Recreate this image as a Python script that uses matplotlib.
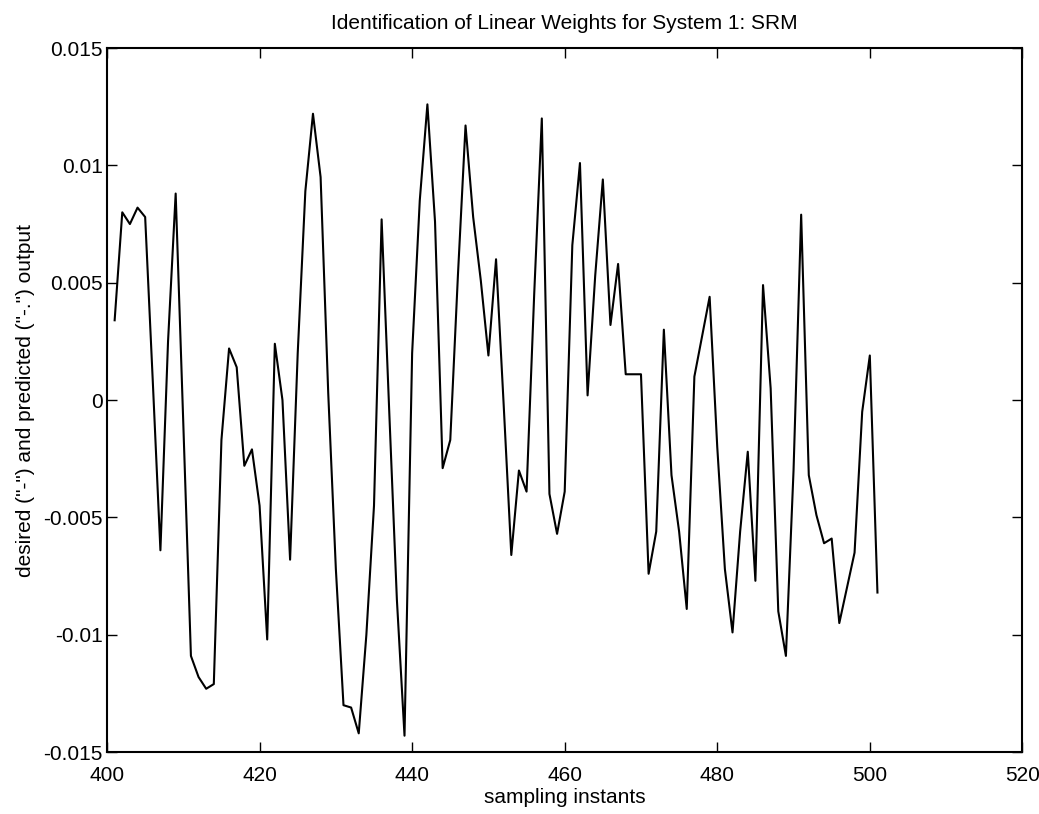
import matplotlib
matplotlib.use('Agg')
import matplotlib.pyplot as plt
import numpy as np

# sampling instants 401..501
instants = np.arange(401, 502)
output = [
    0.0034, 0.0080, 0.0075, 0.0082, 0.0078, 0.0008, -0.0064, 0.0025, 0.0088, -0.0010,
    -0.0109, -0.0118, -0.0123, -0.0121, -0.0017, 0.0022, 0.0014, -0.0028, -0.0021, -0.0045,
    -0.0102, 0.0024, 0.0000, -0.0068, 0.0020, 0.0089, 0.0122, 0.0095, 0.0003, -0.0072,
    -0.0130, -0.0131, -0.0142, -0.0100, -0.0045, 0.0077, -0.0005, -0.0085, -0.0143, 0.0020,
    0.0085, 0.0126, 0.0076, -0.0029, -0.0017, 0.0053, 0.0117, 0.0078, 0.0051, 0.0019,
    0.0060, -0.0002, -0.0066, -0.0030, -0.0039, 0.0045, 0.0120, -0.0040, -0.0057, -0.0039,
    0.0066, 0.0101, 0.0002, 0.0053, 0.0094, 0.0032, 0.0058, 0.0011, 0.0011, 0.0011,
    -0.0074, -0.0056, 0.0030, -0.0032, -0.0056, -0.0089, 0.0010, 0.0027, 0.0044, -0.0020,
    -0.0072, -0.0099, -0.0056, -0.0022, -0.0077, 0.0049, 0.0005, -0.0090, -0.0109, -0.0030,
    0.0079, -0.0032, -0.0049, -0.0061, -0.0059, -0.0095, -0.0080, -0.0065, -0.0005, 0.0019,
    -0.0082,
]

xticks = [400, 420, 440, 460, 480, 500, 520]
yticks = [-0.015, -0.01, -0.005, 0, 0.005, 0.01, 0.015]
ytick_labels = ['-0.015', '-0.01', '-0.005', '0', '0.005', '0.01', '0.015']

plt.rcParams['font.family'] = ['Liberation Sans', 'DejaVu Sans']

fig = plt.figure(figsize=(10.39, 8.14), dpi=100)
ax = fig.add_axes([0.103, 0.076, 0.881, 0.865])

ax.plot(instants, output, color='black', linewidth=1.5)

ax.set_xlim(400, 520)
ax.set_ylim(-0.015, 0.015)
ax.set_xticks(xticks)
ax.set_yticks(yticks)
ax.set_yticklabels(ytick_labels)
ax.tick_params(direction='in', length=7, width=1, labelsize=15,
               top=True, right=True, pad=3)
ax.tick_params(axis='x', pad=10)
for s in ax.spines.values():
    s.set_linewidth(1.5)

ax.set_title('Identification of Linear Weights for System 1: SRM', fontsize=15, pad=14)
ax.set_xlabel('sampling instants', fontsize=15, labelpad=2)
ax.set_ylabel('desired ("-") and predicted ("-.") output', fontsize=15, labelpad=6)

fig.savefig('out.png', dpi=100)
